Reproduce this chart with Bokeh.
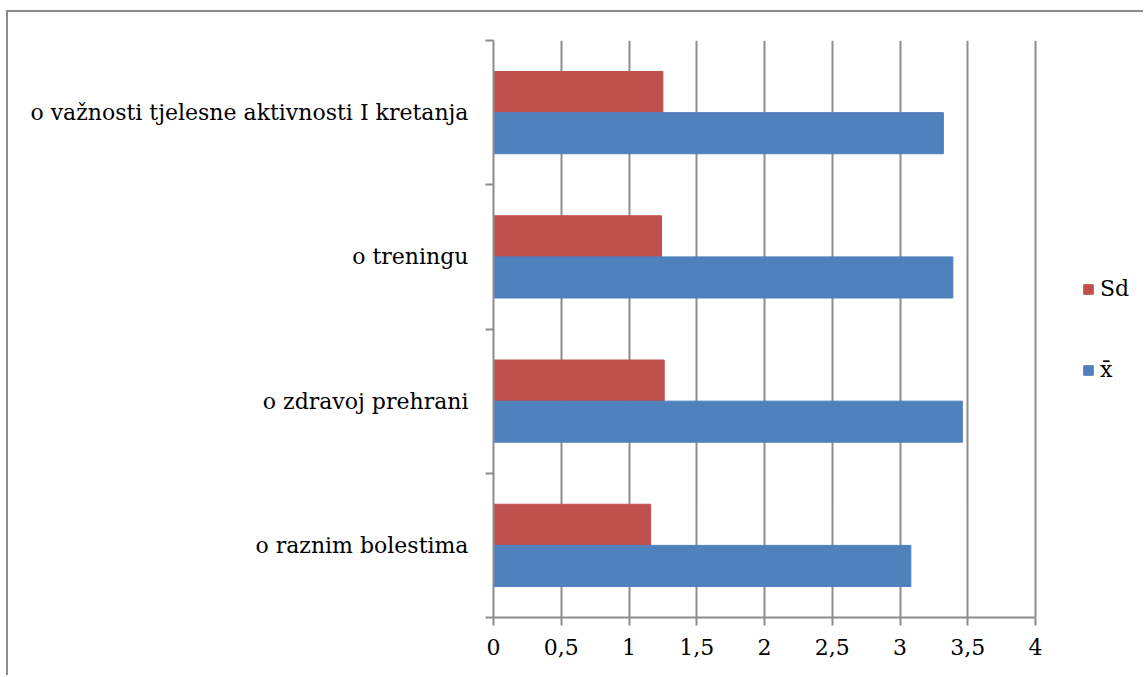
from bokeh.plotting import figure
from bokeh.models import ColumnDataSource, Range1d, FixedTicker, Legend, LegendItem
from bokeh.transform import dodge
from bokeh.embed import file_html
from bokeh.resources import INLINE

categories = ["o raznim bolestima", "o zdravoj prehrani", "o treningu",
              "o važnosti tjelesne aktivnosti I kretanja"]
sd = [1.16, 1.26, 1.24, 1.25]
mean = [3.08, 3.46, 3.39, 3.32]
x_ticks = [0, 0.5, 1, 1.5, 2, 2.5, 3, 3.5, 4]
x_tick_labels = ["0", "0,5", "1", "1,5", "2", "2,5", "3", "3,5", "4"]

FONT = "DejaVu Serif"
FS = "22px"
GRAY = "#8c8c8c"

W, H = 1137, 665
LEFT, TOP, BOTTOM = 485, 28, 60
AXIS_PX = 542  # pixel length of the 0..4 axis
frame_w = W - LEFT
x_max = x_ticks[-1] * frame_w / AXIS_PX

pos = [i + 0.5 for i in range(len(categories))]
src = ColumnDataSource(dict(y=pos, sd=sd, mean=mean, cat=categories))

p = figure(width=W, height=H, output_backend="svg", toolbar_location=None,
           x_range=Range1d(0, x_max), y_range=Range1d(0, len(categories)),
           min_border_left=LEFT, min_border_right=0, min_border_top=TOP,
           min_border_bottom=BOTTOM)
p.styles = {"margin-left": "6px", "margin-top": "10px",
            "border-left": "2px solid #8c8c8c", "border-top": "2px solid #8c8c8c"}
p.outline_line_color = None

r_sd = p.hbar(y=dodge("y", 0.1425, range=p.y_range), right="sd", left=0, height=0.285,
              color="#C0504D", source=src)
r_mean = p.hbar(y=dodge("y", -0.1425, range=p.y_range), right="mean", left=0, height=0.285,
                color="#4F81BD", source=src)

# x axis
p.xaxis.bounds = (x_ticks[0], x_ticks[-1])
p.xaxis.ticker = FixedTicker(ticks=x_ticks)
p.xaxis.major_label_overrides = {t: l for t, l in zip(x_ticks, x_tick_labels)}
p.xaxis.axis_line_color = GRAY
p.xaxis.axis_line_width = 2
p.xaxis.major_tick_line_color = GRAY
p.xaxis.major_tick_line_width = 2
p.xaxis.major_tick_out = 8
p.xaxis.major_tick_in = 0
p.xaxis.minor_tick_line_color = None
p.xaxis.major_label_text_font = FONT
p.xaxis.major_label_text_font_size = FS
p.xaxis.major_label_text_color = "black"
p.xaxis.major_label_standoff = 13

# y axis
p.yaxis.ticker = FixedTicker(ticks=pos, minor_ticks=list(range(len(categories) + 1)))
p.yaxis.major_label_overrides = {t: c for t, c in zip(pos, categories)}
p.yaxis.axis_line_color = GRAY
p.yaxis.axis_line_width = 2
p.yaxis.major_tick_line_color = None
p.yaxis.minor_tick_line_color = GRAY
p.yaxis.minor_tick_line_width = 2
p.yaxis.minor_tick_out = 8
p.yaxis.minor_tick_in = 0
p.yaxis.major_label_text_font = FONT
p.yaxis.major_label_text_font_size = FS
p.yaxis.major_label_text_color = "black"
p.yaxis.major_label_standoff = 17

p.xgrid.grid_line_color = GRAY
p.xgrid.grid_line_width = 2
p.xgrid.ticker = FixedTicker(ticks=x_ticks)
p.ygrid.grid_line_color = None

legend = Legend(items=[LegendItem(label="Sd", renderers=[r_sd]),
                       LegendItem(label="x\u0304", renderers=[r_mean])],
                location=(589, 235), orientation="vertical")
legend.glyph_width = 12
legend.glyph_height = 12
legend.label_standoff = 6
legend.label_text_font = FONT
legend.label_text_font_size = FS
legend.label_text_color = "black"
legend.label_height = 24
legend.spacing = 56
legend.padding = 0
legend.margin = 0
legend.border_line_color = None
legend.background_fill_alpha = 0
p.add_layout(legend, "center")

open("out.html", "w").write(file_html(p, INLINE))
